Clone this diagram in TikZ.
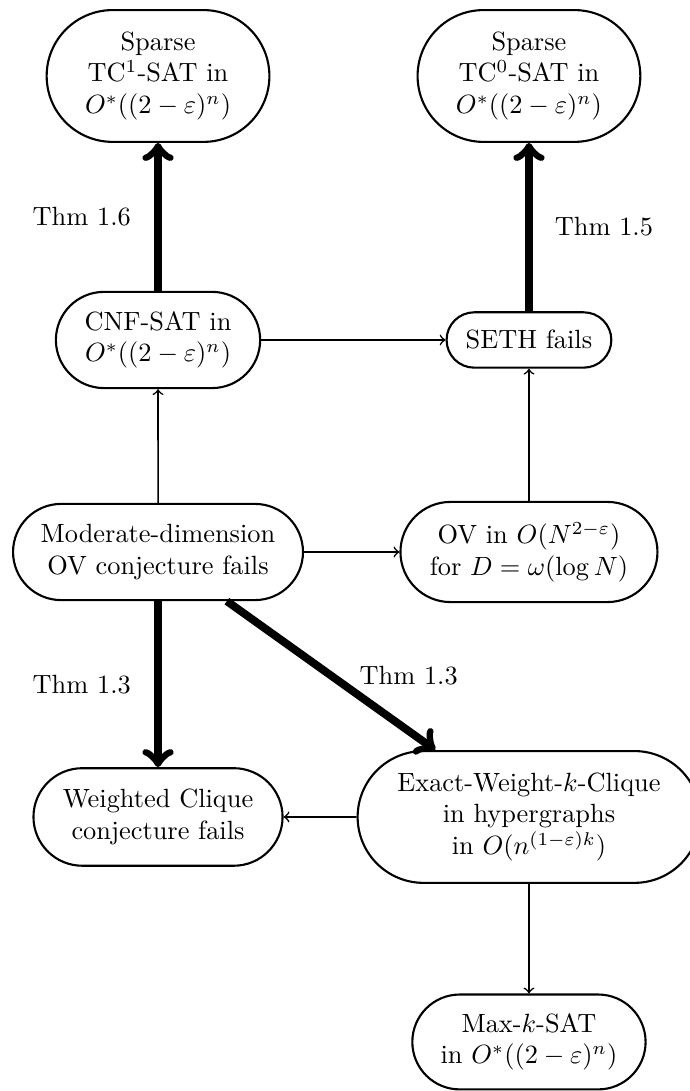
\documentclass[tikz,border=0pt]{standalone}
\usepackage{amssymb}
\usetikzlibrary{arrows,shapes.misc}

\begin{document}
\begin{tikzpicture}[>=to,
  claim/.style={draw,line width=0.8pt,rounded rectangle,align=center,inner sep=3pt},
  imp/.style={->,line width=0.6pt},
  thm/.style={->,line width=3pt}]
  \useasboundingbox (0,0) rectangle (9.187,-14.547);

  \node[claim,minimum width=90.5pt,minimum height=50pt]  (tc1)  at (2.107,-1.013)  {Sparse\\TC$^1$-SAT in\\$O^*((2-\varepsilon)^n)$};
  \node[claim,minimum width=90.5pt,minimum height=50pt]  (tc0)  at (7.053,-1.013)  {Sparse\\TC$^0$-SAT in\\$O^*((2-\varepsilon)^n)$};
  \node[claim,minimum width=83.5pt,minimum height=36.5pt] (cnf) at (2.107,-4.533)  {CNF-SAT in\\$O^*((2-\varepsilon)^n)$};
  \node[claim,minimum width=68.5pt,minimum height=21pt]  (seth) at (7.053,-4.533)  {SETH fails};
  \node[claim,minimum width=116pt,minimum height=36.5pt] (mod) at (2.107,-7.36)  {Moderate-dimension\\OV conjecture fails};
  \node[claim,minimum width=103.5pt,minimum height=38pt]  (ov)   at (7.053,-7.36)   {OV in $O(N^{2-\varepsilon})$\\for $D=\omega(\log N)$};
  \node[claim,minimum width=100.5pt,minimum height=37pt]  (wcl)  at (2.107,-10.893) {Weighted Clique\\conjecture fails};
  \node[claim,minimum width=136pt,minimum height=50pt] (ewk)  at (7.053,-10.893) {Exact-Weight-$k$-Clique\\in hypergraphs\\in $O(n^{(1-\varepsilon)k})$};
  \node[claim,minimum width=94.5pt,minimum height=36pt]  (msat) at (7.053,-13.893) {Max-$k$-SAT\\in $O^*((2-\varepsilon)^n)$};

  % reductions
  \path[imp] (cnf) edge (seth)
             (mod) edge (cnf)
                   edge (ov)
             (ov)  edge (seth)
             (ewk) edge (wcl)
                   edge (msat);

  % theorems
  \draw[thm] (cnf)  -- node[midway,left=5.5pt]  {Thm 1.6} (tc1);
  \draw[thm] (seth) -- node[midway,right=5pt]   {Thm 1.5} (tc0);
  \draw[thm] (mod)  -- node[midway,left=5.5pt]  {Thm 1.3} (wcl);
  \draw[thm] (mod)  -- node[midway,right=6pt]   {Thm 1.3} (ewk);
\end{tikzpicture}
\end{document}
